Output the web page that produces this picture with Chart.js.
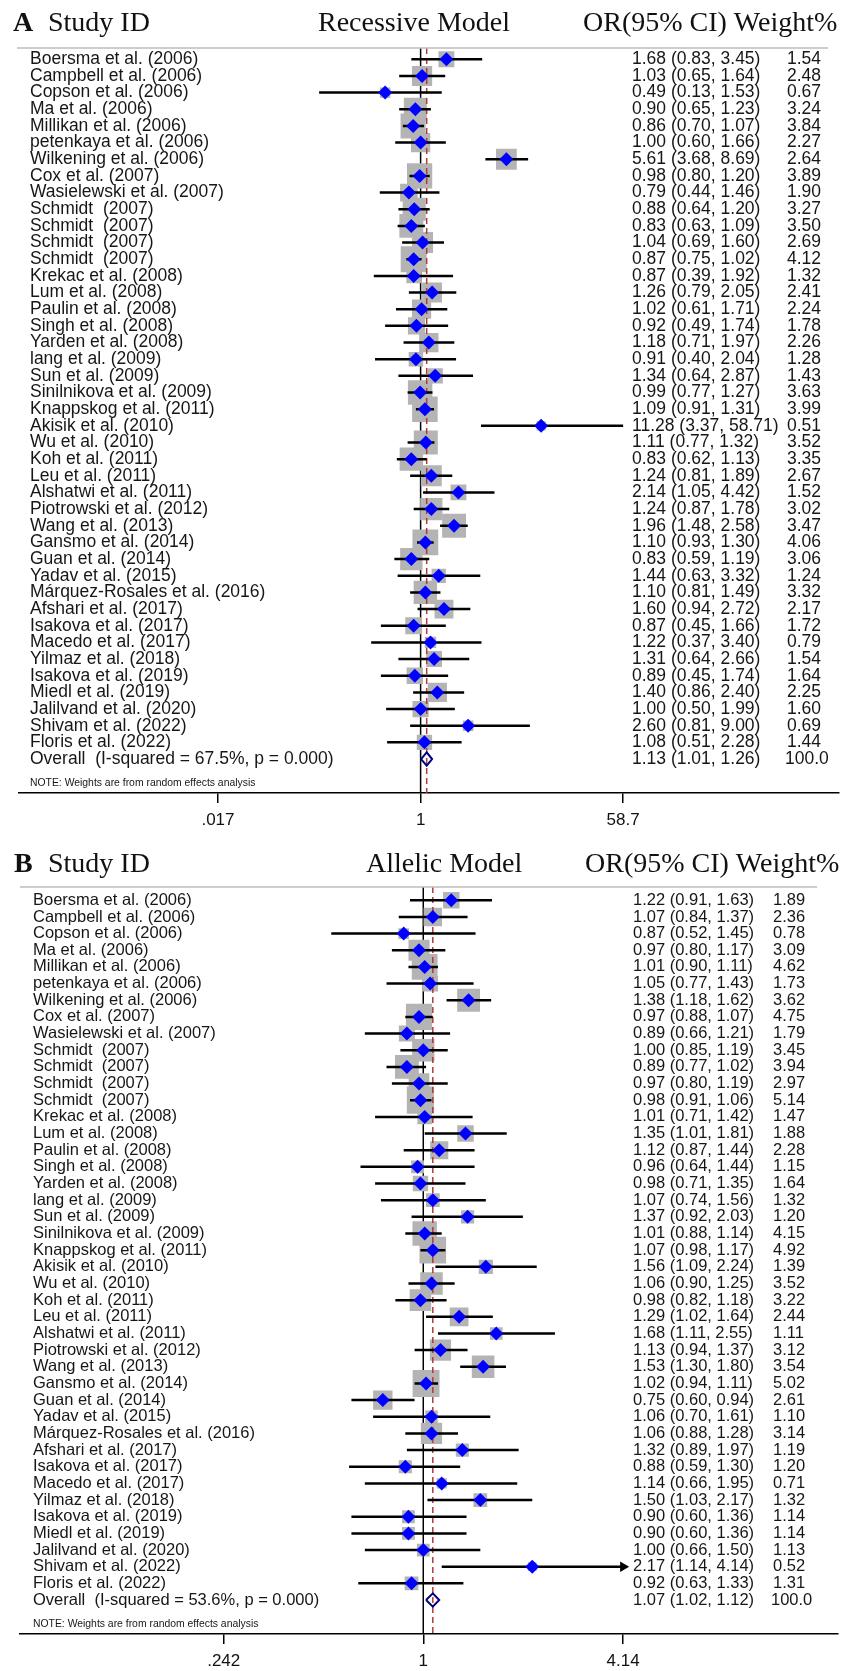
<!DOCTYPE html>
<html><head><meta charset="utf-8">
<script src="https://cdn.jsdelivr.net/npm/chart.js@4/dist/chart.umd.min.js"></script>
<style>html,body{margin:0;padding:0;background:#fff;}canvas{display:block;}</style>
</head><body>
<canvas id="cA" width="857" height="841"></canvas>
<canvas id="cB" width="857" height="830"></canvas>
<script>
// ---------- DATA ----------
const studies = ['Boersma et al. (2006)','Campbell et al. (2006)','Copson et al. (2006)','Ma et al. (2006)','Millikan et al. (2006)','petenkaya et al. (2006)','Wilkening et al. (2006)','Cox et al. (2007)','Wasielewski et al. (2007)','Schmidt  (2007)','Schmidt  (2007)','Schmidt  (2007)','Schmidt  (2007)','Krekac et al. (2008)','Lum et al. (2008)','Paulin et al. (2008)','Singh et al. (2008)','Yarden et al. (2008)','lang et al. (2009)','Sun et al. (2009)','Sinilnikova et al. (2009)','Knappskog et al. (2011)','Akisik et al. (2010)','Wu et al. (2010)','Koh et al. (2011)','Leu et al. (2011)','Alshatwi et al. (2011)','Piotrowski et al. (2012)','Wang et al. (2013)','Gansmo et al. (2014)','Guan et al. (2014)','Yadav et al. (2015)','Márquez-Rosales et al. (2016)','Afshari et al. (2017)','Isakova et al. (2017)','Macedo et al. (2017)','Yilmaz et al. (2018)','Isakova et al. (2019)','Miedl et al. (2019)','Jalilvand et al. (2020)','Shivam et al. (2022)','Floris et al. (2022)'];

// Recessive model
const orRec = [1.68,1.03,0.49,0.90,0.86,1.00,5.61,0.98,0.79,0.88,0.83,1.04,0.87,0.87,1.26,1.02,0.92,1.18,0.91,1.34,0.99,1.09,11.28,1.11,0.83,1.24,2.14,1.24,1.96,1.10,0.83,1.44,1.10,1.60,0.87,1.22,1.31,0.89,1.40,1.00,2.60,1.08];
const loRec = [0.83,0.65,0.13,0.65,0.70,0.60,3.68,0.80,0.44,0.64,0.63,0.69,0.75,0.39,0.79,0.61,0.49,0.71,0.40,0.64,0.77,0.91,3.37,0.77,0.62,0.81,1.05,0.87,1.48,0.93,0.59,0.63,0.81,0.94,0.45,0.37,0.64,0.45,0.86,0.50,0.81,0.51];
const hiRec = [3.45,1.64,1.53,1.23,1.07,1.66,8.69,1.20,1.46,1.20,1.09,1.60,1.02,1.92,2.05,1.71,1.74,1.97,2.04,2.87,1.27,1.31,58.71,1.32,1.13,1.89,4.42,1.78,2.58,1.30,1.19,3.32,1.49,2.72,1.66,3.40,2.66,1.74,2.40,1.99,9.00,2.28];
const wRec = [1.54,2.48,0.67,3.24,3.84,2.27,2.64,3.89,1.90,3.27,3.50,2.69,4.12,1.32,2.41,2.24,1.78,2.26,1.28,1.43,3.63,3.99,0.51,3.52,3.35,2.67,1.52,3.02,3.47,4.06,3.06,1.24,3.32,2.17,1.72,0.79,1.54,1.64,2.25,1.60,0.69,1.44];
const pooledRec = [1.13, 1.01, 1.26];
const overallRec = 'Overall  (I-squared = 67.5%, p = 0.000)';
const ticksRec = [0.017, 1, 58.7];
const tickLabelsRec = ['.017', '1', '58.7'];
const arrowsRec = [];

// Allelic model
const orAll = [1.22,1.07,0.87,0.97,1.01,1.05,1.38,0.97,0.89,1.00,0.89,0.97,0.98,1.01,1.35,1.12,0.96,0.98,1.07,1.37,1.01,1.07,1.56,1.06,0.98,1.29,1.68,1.13,1.53,1.02,0.75,1.06,1.06,1.32,0.88,1.14,1.50,0.90,0.90,1.00,2.17,0.92];
const loAll = [0.91,0.84,0.52,0.80,0.90,0.77,1.18,0.88,0.66,0.85,0.77,0.80,0.91,0.71,1.01,0.87,0.64,0.71,0.74,0.92,0.88,0.98,1.09,0.90,0.82,1.02,1.11,0.94,1.30,0.94,0.60,0.70,0.88,0.89,0.59,0.66,1.03,0.60,0.60,0.66,1.14,0.63];
const hiAll = [1.63,1.37,1.45,1.17,1.11,1.43,1.62,1.07,1.21,1.19,1.02,1.19,1.06,1.42,1.81,1.44,1.44,1.35,1.56,2.03,1.14,1.17,2.24,1.25,1.18,1.64,2.55,1.37,1.80,1.11,0.94,1.61,1.28,1.97,1.30,1.95,2.17,1.36,1.36,1.50,4.14,1.33];
const wAll = [1.89,2.36,0.78,3.09,4.62,1.73,3.62,4.75,1.79,3.45,3.94,2.97,5.14,1.47,1.88,2.28,1.15,1.64,1.32,1.20,4.15,4.92,1.39,3.52,3.22,2.44,1.11,3.12,3.54,5.02,2.61,1.10,3.14,1.19,1.20,0.71,1.32,1.14,1.14,1.13,0.52,1.31];
const pooledAll = [1.07, 1.02, 1.12];
const overallAll = 'Overall  (I-squared = 53.6%, p = 0.000)';
const ticksAll = [0.242, 1, 4.14];
const tickLabelsAll = ['.242', '1', '4.14'];
const arrowsAll = [40];

const noteText = 'NOTE: Weights are from random effects analysis';

// ---------- LAYOUT ----------
const SANS = '"Liberation Sans", Arial, sans-serif';
const SERIF = '"Liberation Serif", "Times New Roman", serif';
const TOP = 40, AXIS_Y = 793, ROW0 = 59.3, ROW_STEP = 16.66, HEAD_BASE = 31;

function makePanel(id, P) {
  const canvas = document.getElementById(id);
  const H = canvas.height;
  const n = studies.length;
  const yMin = -(ROW0 - TOP) / ROW_STEP;
  const yMax = yMin + (AXIS_Y - TOP) / ROW_STEP;
  const ruleRow = (P.ruleY - ROW0) / ROW_STEP;
  const lnLo = Math.log(P.ticks[0]), lnHi = Math.log(P.ticks[P.ticks.length - 1]);
  const pxPerLn = (P.tickPxHi - P.tickPxLo) / (lnHi - lnLo);
  const xMin = Math.exp(lnLo - (P.tickPxLo - P.axisLeft) / pxPerLn);
  const xMax = Math.exp(lnHi + (P.axisRight - P.tickPxHi) / pxPerLn);

  const ci = [];
  P.or.forEach((v, i) => { ci.push({x: P.lo[i], y: i}, {x: P.hi[i], y: i}, {x: null, y: null}); });
  const pts = P.or.map((v, i) => ({x: v, y: i}));
  const [pe, pl, ph] = P.pooled;
  const diamond = [{x: pl, y: n}, {x: pe, y: n - 0.4}, {x: ph, y: n}, {x: pe, y: n + 0.4}, {x: pl, y: n}];

  const textPlugin = {
    id: 'forestText',
    afterDraw(chart) {
      const ctx = chart.ctx, ys = chart.scales.y;
      ctx.save();
      ctx.fillStyle = '#111';
      ctx.textBaseline = 'alphabetic';
      ctx.textAlign = 'left';
      ctx.font = 'bold 28px ' + SERIF;
      ctx.fillText(P.letter, P.letterX, HEAD_BASE);
      ctx.font = '28px ' + SERIF;
      ctx.fillText('Study ID', 48, HEAD_BASE);
      ctx.fillText(P.model, P.modelX, HEAD_BASE);
      ctx.fillText('OR(95% CI) Weight%', P.orHeadX, HEAD_BASE);
      ctx.strokeStyle = '#bdbdbd';
      ctx.lineWidth = 1.5;
      ctx.beginPath();
      ctx.moveTo(P.ruleX0, ys.getPixelForValue(ruleRow));
      ctx.lineTo(P.ruleX1, ys.getPixelForValue(ruleRow));
      ctx.stroke();
      ctx.textBaseline = 'middle';
      ctx.font = P.fs + 'px ' + SANS;
      ctx.fillStyle = '#161616';
      for (let i = 0; i < n; i++) {
        const py = ys.getPixelForValue(i);
        ctx.fillText(studies[i], P.labelX, py);
        ctx.fillText(P.or[i].toFixed(2) + ' (' + P.lo[i].toFixed(2) + ', ' + P.hi[i].toFixed(2) + ')', P.orX, py);
        ctx.fillText(P.w[i].toFixed(2), P.wX, py);
      }
      const po = ys.getPixelForValue(n);
      ctx.fillText(P.overall, P.labelX, po);
      ctx.fillText(pe.toFixed(2) + ' (' + pl.toFixed(2) + ', ' + ph.toFixed(2) + ')', P.orX, po);
      ctx.fillText('100.0', P.wX - 2, po);
      ctx.font = '10.4px ' + SANS;
      ctx.fillText(noteText, P.labelX, po + 24);
      ctx.restore();
    }
  };

  return new Chart(canvas, {
    type: 'scatter',
    data: {
      datasets: [
        {type: 'line', data: [{x: 1, y: ruleRow}, {x: 1, y: yMax}], borderColor: '#000', borderWidth: 1.5, pointRadius: 0, order: 10},
        {type: 'scatter', data: pts, pointStyle: 'rect', backgroundColor: '#b4b4b4', borderWidth: 0,
         pointRadius: c => P.k * Math.sqrt(P.w[c.dataIndex]) / Math.SQRT2, order: 9},
        {type: 'line', data: [{x: pe, y: ruleRow}, {x: pe, y: yMax}], borderColor: '#b03a3a', borderWidth: 1.5, borderDash: [6, 4], pointRadius: 0, order: 8},
        {type: 'line', data: ci, borderColor: '#000', borderWidth: 2.5, pointRadius: 0, spanGaps: false, order: 7},
        {type: 'scatter', data: pts, pointStyle: 'rectRot', pointRadius: 7, backgroundColor: '#0000ff', borderWidth: 0, order: 6},
        {type: 'line', data: diamond, borderColor: '#000080', borderWidth: 2, pointRadius: 0, order: 5},
        {type: 'scatter', data: P.arrows.map(i => ({x: P.hi[i], y: i})), pointStyle: 'triangle', rotation: 90, pointRadius: 6, backgroundColor: '#000', borderWidth: 0, order: 4}
      ]
    },
    options: {
      responsive: false, animation: false, events: [],
      layout: {padding: {left: P.axisLeft, right: canvas.width - P.axisRight, top: TOP, bottom: 0}},
      plugins: {legend: {display: false}, tooltip: {enabled: false}},
      scales: {
        x: {
          type: 'logarithmic', position: 'bottom', min: xMin, max: xMax, bounds: 'data',
          afterBuildTicks: s => { s.ticks = P.ticks.map(v => ({value: v})); },
          afterFit: s => { s.height = H - AXIS_Y; },
          ticks: {autoSkip: false, maxRotation: 0, minRotation: 0, padding: 7, color: '#111',
                  font: {family: SANS, size: 17}, callback: (v, i) => P.tickLabels[i]},
          grid: {display: true, drawOnChartArea: false, drawTicks: true, tickLength: 10, color: '#000', lineWidth: 1.5},
          border: {display: true, color: '#000', width: 1.5}
        },
        y: {type: 'linear', display: false, reverse: true, min: yMin, max: yMax, bounds: 'data'}
      }
    },
    plugins: [textPlugin]
  });
}

makePanel('cA', {
  letter: 'A', letterX: 13, model: 'Recessive Model', modelX: 318, orHeadX: 583,
  ruleY: 48, ruleX0: 17, ruleX1: 828,
  labelX: 30, orX: 632, wX: 787, fs: 17.5, k: 12.8,
  axisLeft: 17, axisRight: 843, tickPxLo: 218, tickPxHi: 626,
  or: orRec, lo: loRec, hi: hiRec, w: wRec, pooled: pooledRec, overall: overallRec,
  ticks: ticksRec, tickLabels: tickLabelsRec, arrows: arrowsRec
});
makePanel('cB', {
  letter: 'B', letterX: 14, model: 'Allelic Model', modelX: 366, orHeadX: 585,
  ruleY: 46, ruleX0: 20, ruleX1: 817,
  labelX: 33, orX: 633, wX: 773, fs: 16.5, k: 12,
  axisLeft: 20, axisRight: 843, tickPxLo: 225, tickPxHi: 627,
  or: orAll, lo: loAll, hi: hiAll, w: wAll, pooled: pooledAll, overall: overallAll,
  ticks: ticksAll, tickLabels: tickLabelsAll, arrows: arrowsAll
});
</script>
</body></html>
